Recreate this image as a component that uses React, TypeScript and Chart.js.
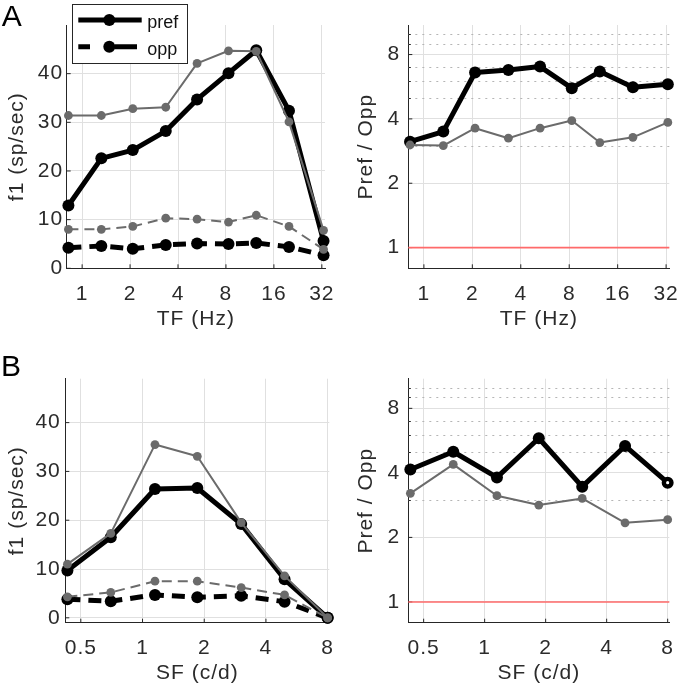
import React, { useEffect, useRef } from "react";
import { Chart, registerables } from "chart.js";
Chart.register(...registerables);

// ---------- data ----------
const tfHz = [0.82, 1.32, 2.08, 3.35, 5.27, 8.3, 12.4, 19.9, 32.8];
const tfPref = [12.9, 22.6, 24.3, 28.2, 34.7, 40.1, 44.8, 32.4, 5.6];
const tfOpp = [4.2, 4.6, 4.0, 4.8, 5.1, 5.0, 5.2, 4.4, 2.7];
const tfPrefGray = [31.4, 31.4, 32.8, 33.1, 42.1, 44.7, 44.6, 30.1, 7.8];
const tfOppGray = [8.0, 8.0, 8.6, 10.3, 10.1, 9.5, 10.9, 8.6, 3.9];
const tfRatio = [3.13, 3.49, 6.59, 6.78, 7.03, 5.57, 6.66, 5.63, 5.81];
const tfRatioGray = [3.02, 3.0, 3.62, 3.25, 3.62, 3.93, 3.1, 3.28, 3.85];

const sfCd = [0.43, 0.7, 1.15, 1.85, 3.03, 4.93, 8.0];
const sfPref = [9.7, 16.5, 26.4, 26.6, 19.2, 7.9, 0];
const sfOpp = [3.8, 3.4, 4.7, 4.2, 4.5, 3.3, 0];
const sfPrefGray = [11.0, 17.3, 35.5, 33.1, 19.5, 8.6, 0];
const sfOppGray = [4.3, 5.2, 7.5, 7.5, 6.2, 4.7, 0];
const sfRatio = [4.15, 5.02, 3.81, 5.8, 3.45, 5.34, 3.6];
const sfRatioGray = [3.21, 4.38, 3.13, 2.83, 3.04, 2.34, 2.42];

const tfTicks = [1, 2, 4, 8, 16, 32];
const sfTicks = [0.5, 1, 2, 4, 8];
const rateTicks = [0, 10, 20, 30, 40];
const ratioTicks = [1, 2, 4, 8];
const ratioMinor = [3, 5, 6, 7, 9, 10];
const legendLabels = ["pref", "opp"];

// ---------- styles ----------
const FONT = '"Liberation Sans", Arial, Helvetica, sans-serif';
const TXT = "#2b2b2b";
const AX = "#262626";
const GRAY = "#6b6b6b";
const GRID = "#e0e0e0";
const FS = 21;
const LS = "1px";

function series(xs: number[], ys: number[], kind: string, extra: any = {}) {
  const black = kind.startsWith("black");
  const dashed = kind.endsWith("Dash");
  return {
    data: xs.map((x, i) => ({ x, y: ys[i] })),
    borderColor: black ? "#000" : GRAY,
    backgroundColor: black ? "#000" : GRAY,
    pointBackgroundColor: black ? "#000" : GRAY,
    pointBorderColor: black ? "#000" : GRAY,
    pointBorderWidth: 0,
    pointRadius: black ? 6 : 4.4,
    borderWidth: black ? 5 : 2,
    borderDash: dashed ? (black ? [13, 8] : [10, 6]) : [],
    borderJoinStyle: "round",
    order: black ? 2 : 1,
    clip: false,
    tension: 0,
    fill: false,
    ...extra,
  };
}

type PanelProps = {
  rect: [number, number, number, number];
  xMin: number;
  xMax: number;
  xTicks: number[];
  xTitle: string;
  yLog: boolean;
  yMin: number;
  yMax: number;
  yTicks: number[];
  yMinor?: number[];
  yTitle: string;
  yTitleGap: number;
  yTickPad: number;
  refLine?: number;
  datasets: any[];
  legend?: boolean;
};

function Panel(p: PanelProps) {
  const ref = useRef<HTMLCanvasElement>(null);
  const [pl, pt, pr, pb] = p.rect;
  const cl = Math.floor(pl) - 70;
  const ct = Math.floor(pt) - 28;
  const cw = Math.ceil(pr) + 24 - cl;
  const ch = Math.ceil(pb) + 72 - ct;

  useEffect(() => {
    const yW = pl - cl;
    const xH = ct + ch - pb;
    const half = (FS * 1.2) / 2;
    const deco = {
      id: "deco",
      beforeDraw(chart: any) {
        chart.ctx.letterSpacing = LS;
      },
      beforeDatasetsDraw(chart: any) {
        const { ctx, chartArea: ca, scales } = chart;
        ctx.save();
        ctx.letterSpacing = "0px";
        if (p.yMinor) {
          ctx.setLineDash([2, 5]);
          ctx.strokeStyle = "#b5b5b5";
          ctx.lineWidth = 1;
          for (const v of p.yMinor) {
            const y = Math.round(scales.y.getPixelForValue(v)) + 0.5;
            ctx.beginPath();
            ctx.moveTo(ca.left, y);
            ctx.lineTo(ca.right, y);
            ctx.stroke();
          }
          ctx.setLineDash([]);
          ctx.strokeStyle = AX;
          for (const v of p.yMinor) {
            const y = Math.round(scales.y.getPixelForValue(v)) + 0.5;
            ctx.beginPath();
            ctx.moveTo(ca.left, y);
            ctx.lineTo(ca.left + 2.5, y);
            ctx.stroke();
          }
        }
        ctx.setLineDash([]);
        ctx.strokeStyle = AX;
        ctx.lineWidth = 1;
        for (const v of p.xTicks) {
          const x = scales.x.getPixelForValue(v);
          ctx.beginPath();
          ctx.moveTo(x, ca.bottom);
          ctx.lineTo(x, ca.bottom - 4);
          ctx.stroke();
        }
        for (const v of p.yTicks) {
          const y = scales.y.getPixelForValue(v);
          ctx.beginPath();
          ctx.moveTo(ca.left, y);
          ctx.lineTo(ca.left + 4, y);
          ctx.stroke();
        }
        if (p.refLine !== undefined) {
          const y = scales.y.getPixelForValue(p.refLine);
          ctx.strokeStyle = "#ff6a6a";
          ctx.lineWidth = 1.6;
          ctx.beginPath();
          ctx.moveTo(ca.left, y);
          ctx.lineTo(ca.right, y);
          ctx.stroke();
        }
        ctx.restore();
      },
      afterDraw(chart: any) {
        if (!p.legend) return;
        const ctx = chart.ctx;
        const ox = -cl;
        const oy = -ct;
        ctx.save();
        ctx.letterSpacing = "0px";
        ctx.fillStyle = "#fff";
        ctx.fillRect(71.7 + ox, 4 + oy, 115, 59.3);
        ctx.strokeStyle = AX;
        ctx.lineWidth = 1;
        ctx.strokeRect(Math.round(71.7 + ox) + 0.5, Math.round(4 + oy) + 0.5, 115, 59);
        ctx.strokeStyle = "#000";
        ctx.fillStyle = "#000";
        ctx.lineWidth = 5;
        // pref
        ctx.beginPath();
        ctx.moveTo(78.3 + ox, 20 + oy);
        ctx.lineTo(141.7 + ox, 20 + oy);
        ctx.stroke();
        ctx.beginPath();
        ctx.arc(109.3 + ox, 20 + oy, 6, 0, Math.PI * 2);
        ctx.fill();
        // opp
        ctx.beginPath();
        ctx.moveTo(78.3 + ox, 46.7 + oy);
        ctx.lineTo(90 + ox, 46.7 + oy);
        ctx.moveTo(115 + ox, 46.7 + oy);
        ctx.lineTo(137 + ox, 46.7 + oy);
        ctx.stroke();
        ctx.beginPath();
        ctx.arc(109.3 + ox, 46.7 + oy, 6, 0, Math.PI * 2);
        ctx.fill();
        ctx.font = `18px ${FONT}`;
        ctx.fillStyle = "#111";
        ctx.textBaseline = "alphabetic";
        ctx.textAlign = "left";
        ctx.fillText(legendLabels[0], 147.3 + ox, 28.3 + oy);
        ctx.fillText(legendLabels[1], 147.3 + ox, 55 + oy);
        ctx.restore();
      },
    };

    const tickFont = { family: FONT, size: FS };
    const chart = new Chart(ref.current as HTMLCanvasElement, {
      type: "line",
      data: { datasets: p.datasets },
      options: {
        animation: false,
        responsive: false,
        maintainAspectRatio: false,
        devicePixelRatio: 1,
        layout: { padding: { left: 0, top: pt - ct, right: cl + cw - pr, bottom: 0 } },
        plugins: { legend: { display: false }, tooltip: { enabled: false } },
        scales: {
          x: {
            type: "logarithmic",
            min: p.xMin,
            max: p.xMax,
            afterBuildTicks: (s: any) => {
              s.ticks = p.xTicks.map((v) => ({ value: v }));
            },
            afterFit: (s: any) => {
              s.height = xH;
            },
            ticks: {
              font: tickFont,
              color: TXT,
              padding: 13,
              autoSkip: false,
              maxRotation: 0,
              callback: (v: any) => String(v),
            },
            grid: { color: GRID, lineWidth: 1, drawTicks: false },
            border: { display: true, color: AX, width: 1 },
            title: {
              display: true,
              text: p.xTitle,
              font: tickFont,
              color: TXT,
              padding: { top: 0, bottom: 9.4 },
            },
          },
          y: {
            type: p.yLog ? "logarithmic" : "linear",
            min: p.yMin,
            max: p.yMax,
            afterBuildTicks: (s: any) => {
              s.ticks = p.yTicks.map((v) => ({ value: v }));
            },
            afterFit: (s: any) => {
              s.width = yW;
            },
            ticks: {
              font: tickFont,
              color: TXT,
              padding: p.yTickPad,
              autoSkip: false,
              callback: (v: any) => String(v),
            },
            grid: { color: GRID, lineWidth: 1, drawTicks: false },
            border: { display: true, color: AX, width: 1 },
            title: {
              display: true,
              text: p.yTitle,
              font: tickFont,
              color: TXT,
              padding: { top: yW - p.yTitleGap - half, bottom: 0 },
            },
          },
        },
      } as any,
      plugins: [deco],
    });
    return () => chart.destroy();
  }, []);

  return (
    <canvas
      ref={ref}
      width={cw}
      height={ch}
      style={{ position: "absolute", left: cl, top: ct, width: cw, height: ch }}
    />
  );
}

const letterStyle: React.CSSProperties = {
  position: "absolute",
  fontFamily: FONT,
  fontSize: 30,
  lineHeight: "30px",
  color: "#000",
};

export default function App() {
  const lastIdx = sfRatio.length - 1;
  return (
    <div
      style={{
        position: "absolute",
        left: 0,
        top: 0,
        width: 677,
        height: 690,
        overflow: "hidden",
        background: "#fff",
      }}
    >
      <Panel
        rect={[66.7, 25, 325, 268.3]}
        xMin={0.8}
        xMax={33.5}
        xTicks={tfTicks}
        xTitle="TF (Hz)"
        yLog={false}
        yMin={0}
        yMax={50}
        yTicks={rateTicks}
        yTitle="f1 (sp/sec)"
        yTitleGap={49}
        yTickPad={3.5}
        legend
        datasets={[
          series(tfHz, tfPrefGray, "gray"),
          series(tfHz, tfOppGray, "grayDash"),
          series(tfHz, tfPref, "black"),
          series(tfHz, tfOpp, "blackDash"),
        ]}
      />
      <Panel
        rect={[408.3, 25, 669.3, 268.3]}
        xMin={0.8}
        xMax={33.5}
        xTicks={tfTicks}
        xTitle="TF (Hz)"
        yLog
        yMin={0.8}
        yMax={11}
        yTicks={ratioTicks}
        yMinor={ratioMinor}
        yTitle="Pref / Opp"
        yTitleGap={41.8}
        yTickPad={8}
        refLine={1}
        datasets={[series(tfHz, tfRatioGray, "gray"), series(tfHz, tfRatio, "black")]}
      />
      <Panel
        rect={[65.3, 378.7, 329.3, 622.7]}
        xMin={0.42}
        xMax={8.15}
        xTicks={sfTicks}
        xTitle="SF (c/d)"
        yLog={false}
        yMin={-1}
        yMax={49}
        yTicks={rateTicks}
        yTitle="f1 (sp/sec)"
        yTitleGap={48}
        yTickPad={4.5}
        datasets={[
          series(sfCd, sfPrefGray, "gray"),
          series(sfCd, sfOppGray, "grayDash"),
          series(sfCd, sfPref, "black"),
          series(sfCd, sfOpp, "blackDash"),
        ]}
      />
      <Panel
        rect={[408.3, 378.7, 669.3, 622.7]}
        xMin={0.42}
        xMax={8.15}
        xTicks={sfTicks}
        xTitle="SF (c/d)"
        yLog
        yMin={0.8}
        yMax={11}
        yTicks={ratioTicks}
        yMinor={ratioMinor}
        yTitle="Pref / Opp"
        yTitleGap={41.8}
        yTickPad={8}
        refLine={1}
        datasets={[
          series(sfCd, sfRatioGray, "gray"),
          series(sfCd, sfRatio, "black", {
            pointRadius: sfRatio.map((_, i) => (i === lastIdx ? 3.8 : 6)),
            pointBorderWidth: sfRatio.map((_, i) => (i === lastIdx ? 4.4 : 0)),
            pointBackgroundColor: sfRatio.map((_, i) => (i === lastIdx ? "#fff" : "#000")),
          }),
        ]}
      />
      <div style={{ ...letterStyle, left: 1.7, top: 1.3 }}>A</div>
      <div style={{ ...letterStyle, left: 1.1, top: 351.3 }}>B</div>
    </div>
  );
}
